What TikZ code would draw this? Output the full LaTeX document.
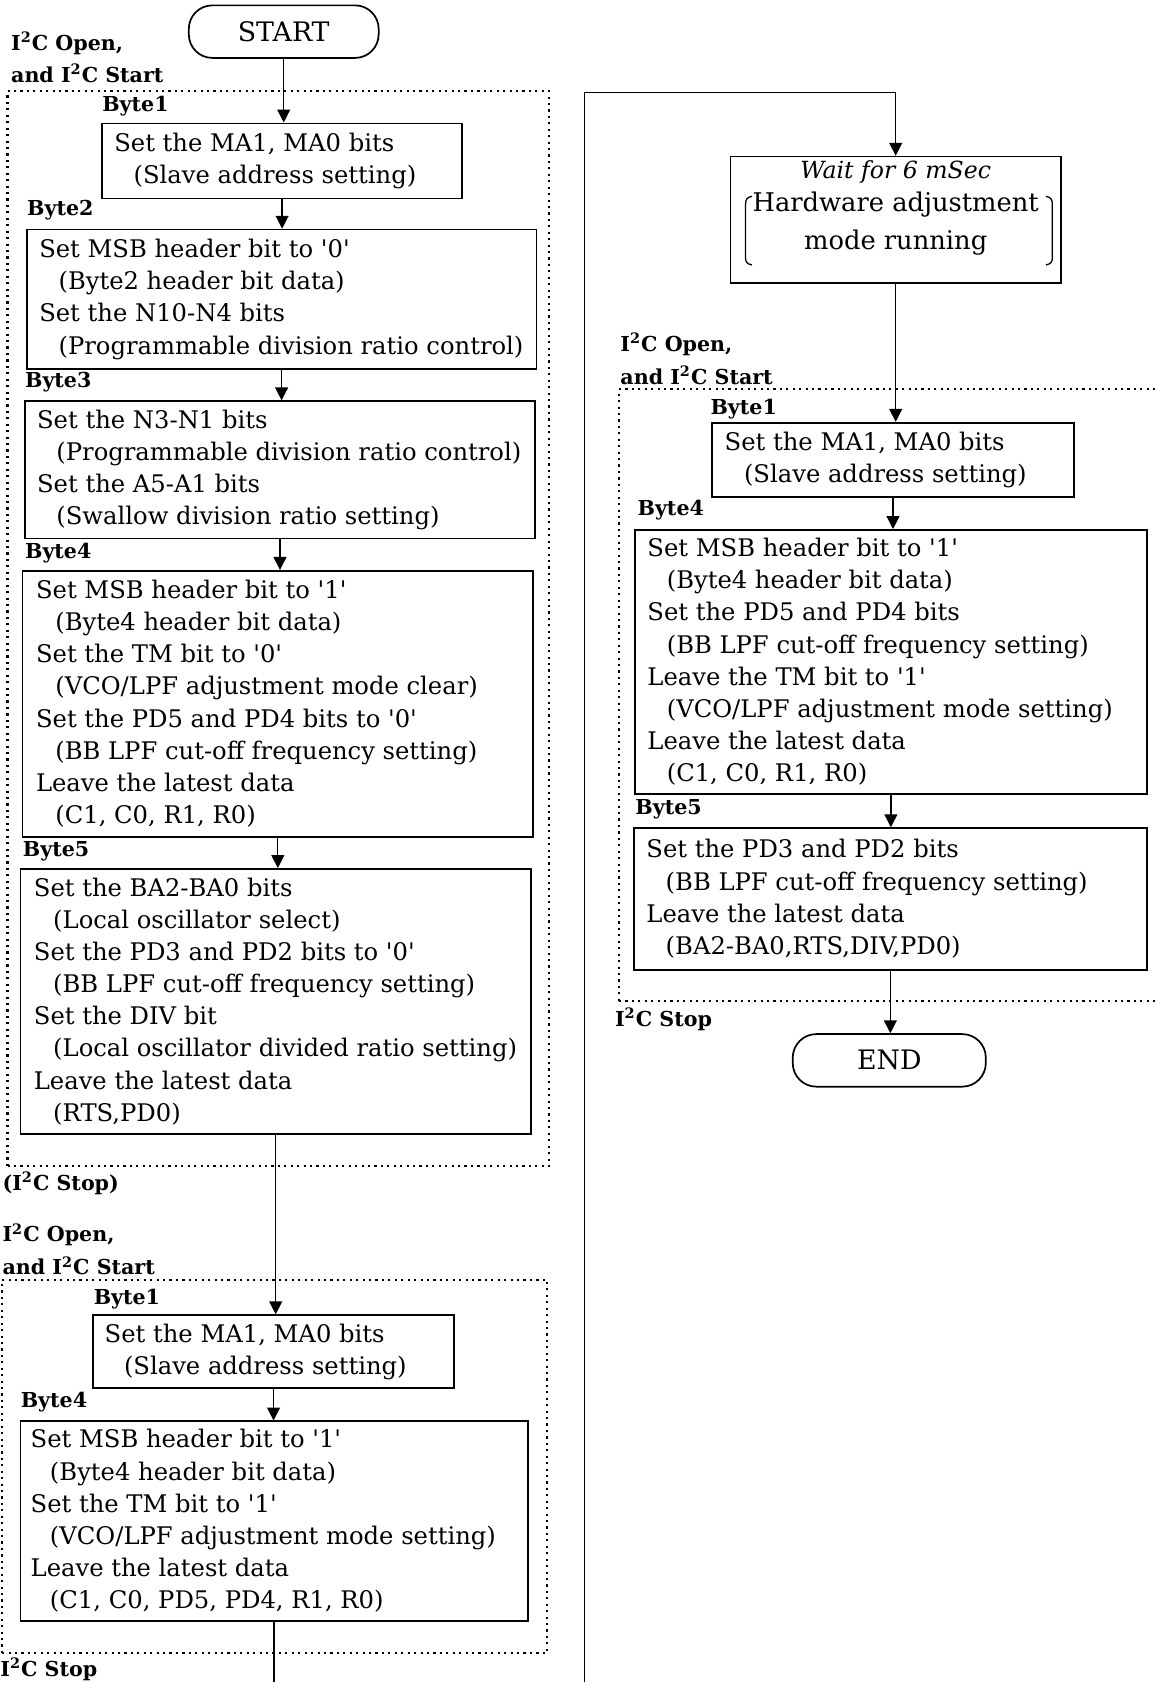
\documentclass[tikz,border=0pt]{standalone}
\usepackage{fontspec}
\setmainfont{DejaVu Serif}
\usetikzlibrary{arrows.meta,fit}
\newcommand\ind{\hspace*{9pt}}
\newcommand\IIC{I\textsuperscript{2}C}
\newcommand\sq{\textquotesingle}
\begin{document}
\begin{tikzpicture}[x=0.5pt,y=-0.5pt,
  box/.style={draw, line width=0.8pt, inner sep=0pt},
  txt/.style={align=left, inner sep=0pt, anchor=west, font=\fontsize{11.3}{15}\selectfont},
  lbl/.style={inner sep=0pt, anchor=west, font=\bfseries\fontsize{9.6}{12}\selectfont},
  term/.style={draw, line width=0.8pt, rounded corners=11pt, inner sep=0pt, font=\fontsize{12.5}{15}\selectfont},
  grp/.style={draw, dotted, line width=1pt},
  flow/.style={line width=0.6pt, -{Triangle[length=6pt,width=6pt]}},
  wire/.style={line width=0.6pt}]
\useasboundingbox (0,0) rectangle (1079,1568);
\fill[white] (0,0) rectangle (1079,1568);

% ---------- left column, first group ----------
\node[term, minimum width=88.5pt, minimum height=24.5pt] (start) at (264.5,29.5) {START};
\node[lbl] (l1) at (10,40) {\IIC\ Open,};
\node[lbl] (l2) at (10,68) {and \IIC\ Start};
\node[grp, inner sep=0pt, fit={(7,85) (512,1087)}] (gA) {};

\node[lbl] (by1) at (95,99) {Byte1};
\node[box, fit={(95,115) (431,185)}] (b1) {};
\node[txt] at ([xshift=6pt]b1.west) {Set the MA1, MA0 bits\\\ind(Slave address setting)};

\node[lbl] (by2) at (25,196) {Byte2};
\node[box, fit={(25,214) (500,344)}] (b2) {};
\node[txt] at ([xshift=6pt]b2.west) {Set MSB header bit to \sq0\sq\\\ind(Byte2 header bit data)\\Set the N10-N4 bits\\\ind(Programmable division ratio control)};

\node[lbl] (by3) at (23,356) {Byte3};
\node[box, fit={(23,374) (499,502)}] (b3) {};
\node[txt] at ([xshift=6pt]b3.west) {Set the N3-N1 bits\\\ind(Programmable division ratio control)\\Set the A5-A1 bits\\\ind(Swallow division ratio setting)};

\node[lbl] (by4) at (23,516) {Byte4};
\node[box, fit={(21,532) (497,780)}] (b4) {};
\node[txt] at ([xshift=6.5pt]b4.west) {Set MSB header bit to \sq1\sq\\\ind(Byte4 header bit data)\\Set the TM bit to \sq0\sq\\\ind(VCO/LPF adjustment mode clear)\\Set the PD5 and PD4 bits to \sq0\sq\\\ind(BB LPF cut-off frequency setting)\\Leave the latest data\\\ind(C1, C0, R1, R0)};

\node[lbl] (by5) at (21,794) {Byte5};
\node[box, fit={(19,810) (495,1057)}] (b5) {};
\node[txt] at ([xshift=6.5pt]b5.west) {Set the BA2-BA0 bits\\\ind(Local oscillator select)\\Set the PD3 and PD2 bits to \sq0\sq\\\ind(BB LPF cut-off frequency setting)\\Set the DIV bit\\\ind(Local oscillator divided ratio setting)\\Leave the latest data\\\ind(RTS,PD0)};

\node[lbl] (s1) at (2,1103) {(\IIC\ Stop)};

% ---------- left column, second group ----------
\node[lbl] (l3) at (2,1151) {\IIC\ Open,};
\node[lbl] (l4) at (2,1180) {and \IIC\ Start};
\node[grp, inner sep=0pt, fit={(2,1193) (510,1541)}] (gB) {};

\node[lbl] (by6) at (87,1211) {Byte1};
\node[box, fit={(87,1226) (423,1294)}] (b6) {};
\node[txt] at ([xshift=5.5pt]b6.west) {Set the MA1, MA0 bits\\\ind(Slave address setting)};

\node[lbl] (by7) at (19,1307) {Byte4};
\node[box, fit={(19,1325) (492,1511)}] (b7) {};
\node[txt] at ([xshift=5pt]b7.west) {Set MSB header bit to \sq1\sq\\\ind(Byte4 header bit data)\\Set the TM bit to \sq1\sq\\\ind(VCO/LPF adjustment mode setting)\\Leave the latest data\\\ind(C1, C0, PD5, PD4, R1, R0)};

\node[lbl] (s2) at (0,1556) {\IIC\ Stop};

% ---------- right column ----------
\node[box, fit={(681,146) (989,264)}] (wait) {};
\node[inner sep=0pt, font=\itshape\fontsize{11}{14}\selectfont] (wt) at (835,160) {Wait for 6 mSec};
\node[inner sep=0pt, font=\fontsize{12}{15}\selectfont] (h1) at (835,191) {Hardware adjustment};
\node[inner sep=0pt, font=\fontsize{12}{15}\selectfont] (h2) at (835,226) {mode running};
\draw[line width=0.6pt] (701,183) .. controls (696,184) and (695,186) .. (695,191) -- (695,240) .. controls (695,244) and (696,246) .. (701,247);
\draw[line width=0.6pt] (975,183) .. controls (980,184) and (981,186) .. (981,191) -- (981,240) .. controls (981,244) and (980,246) .. (975,247);

\node[lbl] (l5) at (578,321) {\IIC\ Open,};
\node[lbl] (l6) at (578,350) {and \IIC\ Start};
\node[grp, inner sep=0pt, fit={(577,363) (1085,933)}] (gC) {};

\node[lbl] (by8) at (662,381) {Byte1};
\node[box, fit={(664,394) (1001,463)}] (b8) {};
\node[txt] at ([xshift=6pt]b8.west) {Set the MA1, MA0 bits\\\ind(Slave address setting)};

\node[lbl] (by9) at (594,476) {Byte4};
\node[box, fit={(592,494) (1069,740)}] (b9) {};
\node[txt] at ([xshift=6pt]b9.west) {Set MSB header bit to \sq1\sq\\\ind(Byte4 header bit data)\\Set the PD5 and PD4 bits\\\ind(BB LPF cut-off frequency setting)\\Leave the TM bit to \sq1\sq\\\ind(VCO/LPF adjustment mode setting)\\Leave the latest data\\\ind(C1, C0, R1, R0)};

\node[lbl] (by10) at (592,754) {Byte5};
\node[box, fit={(591,772) (1069,904)}] (b10) {};
\node[txt] at ([xshift=6pt]b10.west) {Set the PD3 and PD2 bits\\\ind(BB LPF cut-off frequency setting)\\Leave the latest data\\\ind(BA2-BA0,RTS,DIV,PD0)};

\node[lbl] (s3) at (573,950) {\IIC\ Stop};
\node[term, minimum width=90pt, minimum height=24.5pt] (end) at (829,988.5) {END};

% ---------- connectors ----------
\coordinate (botL) at (252,1568);
\coordinate (botR) at (545,1568);
\coordinate (topR) at (545,86);
\draw[flow] (start.south) -- (start.south |- b1.north);
\draw[flow] (b1.south) -- (b1.south |- b2.north);
\draw[flow] (b2.south) -- (b2.south |- b3.north);
\draw[flow] (b3.south) -- (b3.south |- b4.north);
\draw[flow] (b4.south) -- (b4.south |- b5.north);
\draw[flow] (b5.south) -- (b5.south |- b6.north);
\draw[flow] (b6.south) -- (b6.south |- b7.north);
\draw[wire] (b7.south) -- (b7.south |- botL);
\draw[flow] (botR) -- (topR) -| (wait.north);
\draw[flow] (wait.south) -- (wait.south |- b8.north);
\draw[flow] (b8.south) -- (b8.south |- b9.north);
\draw[flow] (b9.south) -- (b9.south |- b10.north);
\draw[flow] (b10.south) -- (b10.south |- end.north);
\end{tikzpicture}
\end{document}
